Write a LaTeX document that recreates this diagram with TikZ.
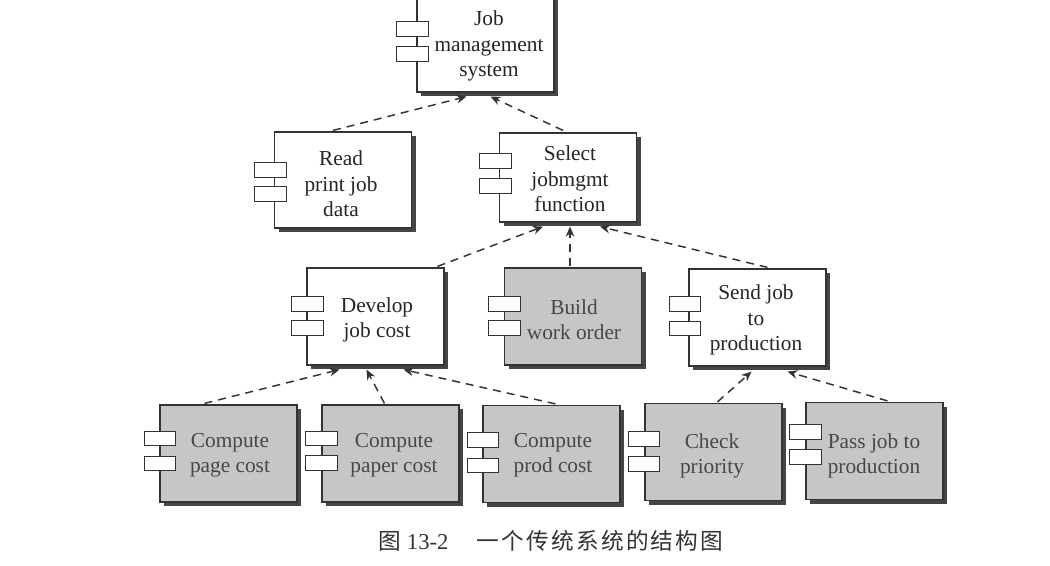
\documentclass[tikz,border=0pt]{standalone}
\usepackage{fontspec}
\setmainfont{Liberation Serif}
\newfontfamily\cjk[LetterSpace=10]{Noto Sans CJK SC}
\usetikzlibrary{shadows,arrows.meta}
\definecolor{ink}{HTML}{333333}
\definecolor{shade}{HTML}{454545}
\definecolor{stip}{HTML}{C6C6C6}
\tikzset{
  x=0.75pt,y=-0.75pt,
  compbox/.style={draw=ink,line width=0.9pt,fill=white,minimum width=102.75pt,inner sep=0pt,
    drop shadow={shadow xshift=3pt,shadow yshift=-3pt,fill=shade,opacity=1}},
  greybox/.style={compbox,fill=stip},
  tabbox/.style={draw=ink,line width=0.9pt,fill=white,minimum width=23.5pt,minimum height=11pt,inner sep=0pt},
  txt/.style={font=\fontsize{16}{19}\selectfont,align=center,text=black!85,inner sep=0pt},
  gtxt/.style={txt,text=black!72},
  dep/.style={draw=ink,line width=1.1pt,dash pattern=on 6pt off 4.5pt,-{Stealth[length=7.5pt,width=6.5pt]}},
  captext/.style={font=\fontsize{17}{20}\selectfont,text=black!80,inner sep=0pt}
}
\begin{document}
\begin{tikzpicture}
\path[use as bounding box] (0,0) rectangle (1050,565);
\clip (0,0) rectangle (1050,565);
\fill[white] (0,0) rectangle (1050,565);
% boxes
\node[compbox,minimum height=72.75pt] (job) at (485.5,43.5) {};
\node[compbox,minimum height=72pt] (read) at (343,180) {};
\node[compbox,minimum height=66.75pt] (select) at (568,177.5) {};
\node[compbox,minimum height=72.75pt] (develop) at (375.5,316.5) {};
\node[greybox,minimum height=72.75pt] (build) at (573,316.5) {};
\node[compbox,minimum height=72.75pt] (send) at (757.5,317.5) {};
\node[greybox,minimum height=72.75pt] (page) at (228.5,453.5) {};
\node[greybox,minimum height=72.75pt] (paper) at (390.5,453.5) {};
\node[greybox,minimum height=72.75pt] (prod) at (551.5,454) {};
\node[greybox,minimum height=72.75pt] (check) at (713.5,452) {};
\node[greybox,minimum height=72.75pt] (pass) at (874.5,451) {};
% tabs
\node[tabbox] (job-a) at (412.5,29) {};
\node[tabbox] (job-b) at (412.5,54) {};
\node[tabbox] (read-a) at (270.5,170) {};
\node[tabbox] (read-b) at (270.5,194) {};
\node[tabbox] (select-a) at (495.5,161) {};
\node[tabbox] (select-b) at (495.5,186) {};
\node[tabbox] (develop-a) at (307.5,304) {};
\node[tabbox] (develop-b) at (307.5,328) {};
\node[tabbox] (build-a) at (504.5,304) {};
\node[tabbox] (build-b) at (504.5,328) {};
\node[tabbox] (send-a) at (685,304) {};
\node[tabbox] (send-b) at (685,328.5) {};
\node[tabbox] (page-a) at (160,438.5) {};
\node[tabbox] (page-b) at (160,463.5) {};
\node[tabbox] (paper-a) at (321.5,438.5) {};
\node[tabbox] (paper-b) at (321.5,463) {};
\node[tabbox] (prod-a) at (483,440) {};
\node[tabbox] (prod-b) at (483,465.5) {};
\node[tabbox] (check-a) at (644,439) {};
\node[tabbox] (check-b) at (644,464) {};
\node[tabbox] (pass-a) at (805.5,432) {};
\node[tabbox] (pass-b) at (805.5,457) {};
% labels
\node[txt] (job-t) at (489,46) {Job\\management\\system};
\node[txt] (read-t) at (341,184) {Read\\print job\\data};
\node[txt] (select-t) at (570,179) {Select\\jobmgmt\\function};
\node[txt] (develop-t) at (377,320) {Develop\\job cost};
\node[gtxt] (build-t) at (574,320) {Build\\work order};
\node[txt] (send-t) at (756,320) {Send job\\to\\production};
\node[gtxt] (page-t) at (230,455) {Compute\\page cost};
\node[gtxt] (paper-t) at (394,455) {Compute\\paper cost};
\node[gtxt] (prod-t) at (553,455) {Compute\\prod cost};
\node[gtxt] (check-t) at (712,456) {Check\\priority};
\node[gtxt] (pass-t) at (874,456) {Pass job to\\production};
% connectors
\draw[dep] ([shift={(-10,-1)}]read.north) -- ([shift={(-19,4)}]job.south);
\draw[dep] ([shift={(-5,-2)}]select.north) -- ([shift={(5,4)}]job.south);
\draw[dep] ([shift={(62,-1)}]develop.north) -- ([shift={(-25,4)}]select.south);
\draw[dep] ([shift={(-3,-1)}]build.north) -- ([shift={(2,4)}]select.south);
\draw[dep] ([shift={(10,-1)}]send.north) -- ([shift={(32,4)}]select.south);
\draw[dep] ([shift={(-24,-1)}]page.north) -- ([shift={(-36,4)}]develop.south);
\draw[dep] ([shift={(-6,-1)}]paper.north) -- ([shift={(-9,4)}]develop.south);
\draw[dep] ([shift={(4,-1)}]prod.north) -- ([shift={(28,4)}]develop.south);
\draw[dep] ([shift={(4,-1)}]check.north) -- ([shift={(-6,5)}]send.south);
\draw[dep] ([shift={(13,-1)}]pass.north) -- ([shift={(30,5)}]send.south);
% caption
\node[captext,anchor=west] (cap) at (378,541) {{\cjk 图}\hspace{4.5pt}13-2\hspace{21pt}{\cjk 一个传统系统的结构图}};
\end{tikzpicture}
\end{document}
